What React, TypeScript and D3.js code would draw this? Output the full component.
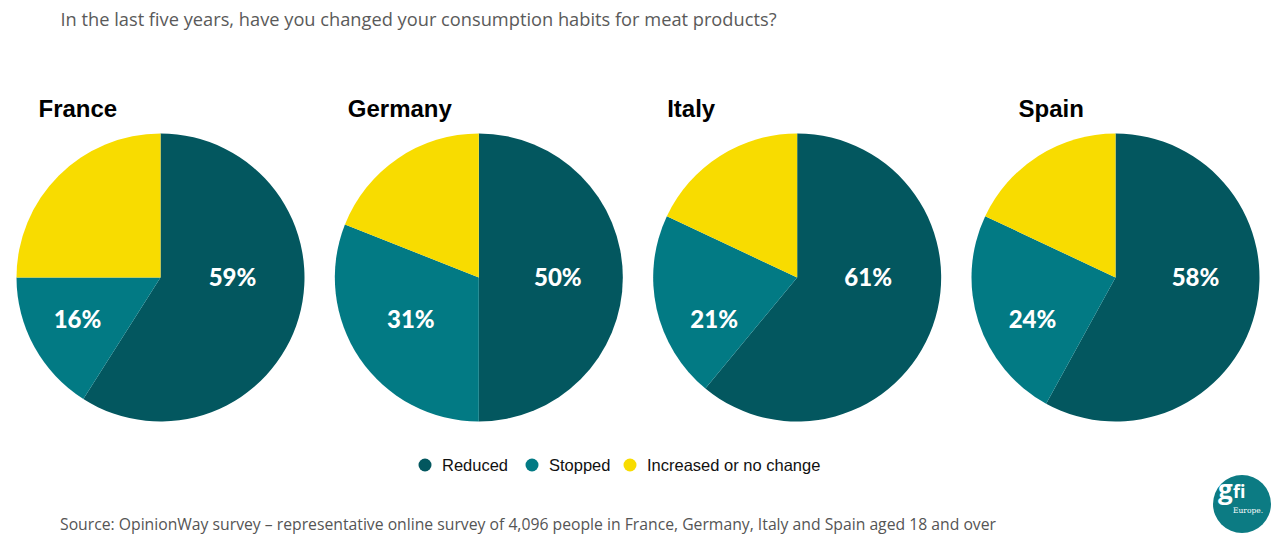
import React from "react";
import * as d3 from "d3";

const countries = ["France", "Germany", "Italy", "Spain"];
const categories = ["Reduced", "Stopped", "Increased or no change"];
const reduced = [59, 50, 61, 58];
const stopped = [16, 31, 21, 24];
const increased = [25, 19, 18, 18];
const colors = ["#03575f", "#027a84", "#f8dc00"];

const titleText = "In the last five years, have you changed your consumption habits for meat products?";
const sourceText =
  "Source: OpinionWay survey \u2013 representative online survey of 4,096 people in France, Germany, Italy and Spain aged 18 and over";

// layout
const W = 1280;
const H = 539;
const R = 144;
const CY = 277.5;
const titleDx = [-122, -131, -130, -97];
const reducedLabelDx = [72, 79, 71, 80];
const stoppedLabelDx = [-83, -68, -83, -83];

export default function App() {
  const x = d3.scalePoint<string>().domain(countries).range([160.5, 1115.5]);
  const pie = d3.pie<number>().sort(null).value((d) => d);
  const arc = d3.arc<d3.PieArcDatum<number>>().innerRadius(0).outerRadius(R);

  const legendX = [425, 532, 630];

  return (
    <svg
      width={W}
      height={H}
      style={{ position: "fixed", left: 0, top: 0, background: "#fff" }}
    >
      <rect width={W} height={H} fill="#fff" />
      <text
        x={60.5}
        y={26}
        fontFamily="'Open Sans', Roboto, sans-serif"
        fontSize={19}
        fill="#5a5a5a"
        textLength={716}
        lengthAdjust="spacingAndGlyphs"
      >
        {titleText}
      </text>

      {countries.map((c, i) => {
        const cx = x(c)!;
        const vals = [reduced[i], stopped[i], increased[i]];
        const arcs = pie(vals);
        return (
          <g key={c}>
            <text
              x={cx + titleDx[i]}
              y={117}
              fontFamily="'Liberation Sans', Arial, sans-serif"
              fontWeight="bold"
              fontSize={24}
              fill="#000"
            >
              {c}
            </text>
            <g transform={`translate(${cx},${CY})`}>
              {arcs.map((a, j) => (
                <path key={j} d={arc(a) || ""} fill={colors[j]} />
              ))}
              <text
                x={reducedLabelDx[i]}
                y={0}
                dy="0.35em"
                textAnchor="middle"
                fontFamily="Lato, sans-serif"
                fontWeight={900}
                fontSize={24}
                fill="#fff"
              >
                {reduced[i]}%
              </text>
              <text
                x={stoppedLabelDx[i]}
                y={42}
                dy="0.35em"
                textAnchor="middle"
                fontFamily="Lato, sans-serif"
                fontWeight={900}
                fontSize={24}
                fill="#fff"
              >
                {stopped[i]}%
              </text>
            </g>
          </g>
        );
      })}

      {categories.map((c, j) => (
        <g key={c} transform={`translate(${legendX[j]},465)`}>
          <circle r={6.5} fill={colors[j]} />
          <text
            x={17}
            y={0}
            dy="0.35em"
            fontFamily="'Liberation Sans', Arial, sans-serif"
            fontSize={16.5}
            fill="#111"
          >
            {c}
          </text>
        </g>
      ))}

      <text
        x={60}
        y={530}
        fontFamily="'Open Sans', Roboto, sans-serif"
        fontSize={16}
        fill="#555"
        textLength={936}
        lengthAdjust="spacingAndGlyphs"
      >
        {sourceText}
      </text>

      <g transform="translate(1242,504)">
        <circle r={29} fill="#0c7b83" />
        <text
          x={-24}
          y={-5}
          fontFamily="'Open Sans', sans-serif"
          fontWeight="bold"
          fontSize={26}
          fill="#fff"
        >
          g
        </text>
        <text
          x={-9}
          y={-6}
          fontFamily="'Open Sans', sans-serif"
          fontWeight="bold"
          fontSize={18}
          fill="#fff"
        >
          fi
        </text>
        <text
          x={-9}
          y={9}
          fontFamily="'DejaVu Serif', serif"
          fontSize={7.5}
          fill="#fff"
        >
          Europe.
        </text>
      </g>
    </svg>
  );
}
